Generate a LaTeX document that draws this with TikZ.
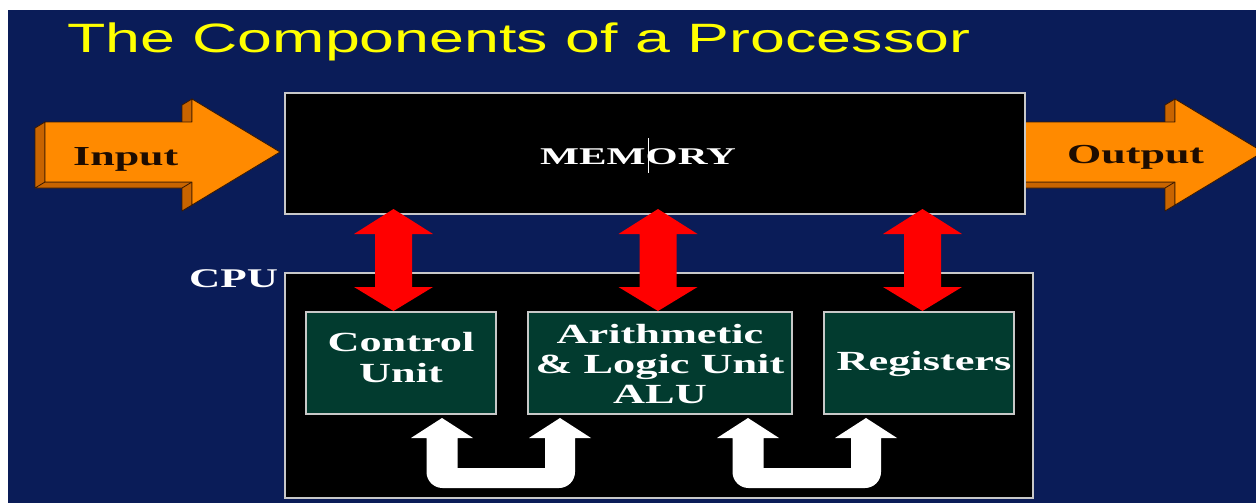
\documentclass[tikz,border=0pt]{standalone}
\usepackage{fontspec}
\setmainfont{Liberation Serif}[FakeStretch=1.6]
\newfontfamily\titlefont{Liberation Sans}[FakeStretch=1.53]
\newfontfamily\memfont{Liberation Serif}[FakeStretch=1.72]
\usetikzlibrary{calc}
\definecolor{bgblue}{HTML}{0A1C58}
\definecolor{ttlyellow}{HTML}{FFFF00}
\definecolor{orfrontc}{HTML}{FF8A00}
\definecolor{orsidec}{HTML}{C86400}
\definecolor{oredgec}{HTML}{3A1A00}
\definecolor{unitgreen}{HTML}{023B2F}
\definecolor{boxedge}{HTML}{C8C8C8}
\definecolor{intext}{HTML}{1E0C00}

\newcommand\orarrow[2]{%
  \filldraw[orside] let \p1=(#1), \p2=(#2), \p3=($(#2)+(-88,0)$) in
    (\x1,\y1+30pt) -- (\x1,\y1-30pt) -- (\x1-10pt,\y1-36pt) -- (\x1-10pt,\y1+24pt) -- cycle
    (\x1,\y1-30pt) -- (\x3,\y1-30pt) -- (\x3-10pt,\y1-36pt) -- (\x1-10pt,\y1-36pt) -- cycle
    (\x3,\y1+53pt) -- (\x3,\y1+30pt) -- (\x3-10pt,\y1+24pt) -- (\x3-10pt,\y1+47pt) -- cycle
    (\x3,\y1-30pt) -- (\x3,\y1-53pt) -- (\x3-10pt,\y1-59pt) -- (\x3-10pt,\y1-36pt) -- cycle;
  \filldraw[orfront] let \p1=(#1), \p2=(#2), \p3=($(#2)+(-88,0)$) in
    (\x1,\y1+30pt) -- (\x3,\y1+30pt) -- (\x3,\y1+53pt) -- (\x2,\y2)
    -- (\x3,\y1-53pt) -- (\x3,\y1-30pt) -- (\x1,\y1-30pt) -- cycle;
}
\newcommand\redarrow[2]{%
  \fill[redarr] let \p1=(#1), \p2=(#2) in
    (\x1,\y1) -- (\x1+39.5pt,\y1-25pt) -- (\x1+18.5pt,\y1-25pt) -- (\x1+18.5pt,\y2+24pt)
    -- (\x1+39.5pt,\y2+24pt) -- (\x1,\y2) -- (\x1-39.5pt,\y2+24pt) -- (\x1-18.5pt,\y2+24pt)
    -- (\x1-18.5pt,\y1-25pt) -- (\x1-39.5pt,\y1-25pt) -- cycle;
}
\newcommand\uarrow[2]{%
  \fill[uarr] let \p1=(#1), \p2=(#2) in
    (\x1,\y1) -- (\x1+31pt,\y1-20pt) -- (\x1+15.5pt,\y1-20pt) -- (\x1+15.5pt,\y1-50pt)
    -- (\x2-15pt,\y1-50pt) -- (\x2-15pt,\y1-20pt) -- (\x2-31pt,\y1-20pt) -- (\x2,\y2)
    -- (\x2+31pt,\y2-20pt) -- (\x2+15pt,\y2-20pt) -- (\x2+15pt,\y2-54pt)
    .. controls (\x2+15pt,\y2-62.8pt) and (\x2+7.8pt,\y2-70pt) .. (\x2-1pt,\y2-70pt)
    -- (\x1+0.5pt,\y1-70pt)
    .. controls (\x1-8.3pt,\y1-70pt) and (\x1-15.5pt,\y1-62.8pt) .. (\x1-15.5pt,\y1-54pt)
    -- (\x1-15.5pt,\y1-20pt) -- (\x1-31pt,\y1-20pt) -- cycle;
}

\begin{document}
\begin{tikzpicture}[x=1pt,y=-1pt,
  orside/.style={fill=orsidec, draw=oredgec, line width=0.8pt, line join=round},
  orfront/.style={fill=orfrontc, draw=oredgec, line width=0.8pt, line join=round},
  redarr/.style={fill=red},
  uarr/.style={fill=white},
  bigbox/.style={draw=boxedge, line width=1.2pt, fill=black, inner sep=0pt, outer sep=0pt},
  unitbox/.style={draw=boxedge, line width=1.2pt, fill=unitgreen, inner sep=0pt, outer sep=0pt,
    minimum height=102pt},
  unittext/.style={text=white, align=center, inner sep=0pt,
    font={\bfseries\fontsize{27.7}{30}\selectfont}},
  iotext/.style={text=intext, anchor=base west, inner sep=0pt,
    font={\bfseries\fontsize{27.5}{30}\selectfont}}
]
\useasboundingbox (0,0) rectangle (1256,503);
\fill[white] (0,0) rectangle (1256,503);
\fill[bgblue] (8,10) rectangle (1256,503);

% title
\node[anchor=base west, inner sep=0pt, text=ttlyellow,
  font={\titlefont\fontsize{41}{41}\selectfont}] (title) at (67,52.5)
  {The Components of a Processor};

% arrows in / out
\coordinate (intail) at (45,152);
\coordinate (intip) at (280,152);
\coordinate (outtail) at (1015,152);
\coordinate (outtip) at (1263,152);
\orarrow{intail}{intip}
\orarrow{outtail}{outtip}
\node[iotext] (intxt) at (73,165) {Input};
\node[iotext] (outtxt) at (1067,163.5) {Output};

% memory
\node[bigbox, minimum width=740pt, minimum height=121pt] (mem) at (655,153.5) {};
\node[anchor=base west, inner sep=0pt, text=white,
  font={\memfont\bfseries\fontsize{24}{24}\selectfont}] (memtxt) at (540,164) {MEMORY};
\draw[white, line width=1pt] (648,138) -- (648,173);

% cpu
\node[bigbox, minimum width=748pt, minimum height=225pt] (cpu) at (659,385.5) {};
\node[anchor=base west, inner sep=0pt, text=white,
  font={\bfseries\fontsize{27}{27}\selectfont}] (cpulbl) at (189,287) {CPU};

\node[unitbox, minimum width=190pt] (cu) at (401,363) {};
\node[unitbox, minimum width=264pt] (alu) at (660,363) {};
\node[unitbox, minimum width=190pt] (reg) at (919,363) {};

\node[unittext, font={\bfseries\fontsize{27.7}{31}\selectfont}] (cutxt) at (401,358) {Control\\Unit};
\node[unittext] (alutxt) at (660,364.5) {Arithmetic\\\&\ Logic Unit\\ALU};
\node[unittext, anchor=base] (regtxt) at (924,370) {Registers};

% red double arrows memory <-> units
\coordinate (r1t) at ($(cu.north |- mem.south)+(-7.5,-5)$);
\coordinate (r1b) at ($(cu.north)+(-7.5,-1)$);
\coordinate (r2t) at ($(alu.north |- mem.south)+(-2,-5)$);
\coordinate (r2b) at ($(alu.north)+(-2,-1)$);
\coordinate (r3t) at ($(reg.north |- mem.south)+(3.5,-5)$);
\coordinate (r3b) at ($(reg.north)+(3.5,-1)$);
\redarrow{r1t}{r1b}
\redarrow{r2t}{r2b}
\redarrow{r3t}{r3b}

% white U arrows between units
\coordinate (u1l) at ($(cu.south)+(41,4)$);
\coordinate (u1r) at ($(alu.south west)+(32,4)$);
\coordinate (u2l) at ($(alu.south east)+(-44,4)$);
\coordinate (u2r) at ($(reg.south west)+(42,4)$);
\uarrow{u1l}{u1r}
\uarrow{u2l}{u2r}
\end{tikzpicture}
\end{document}
